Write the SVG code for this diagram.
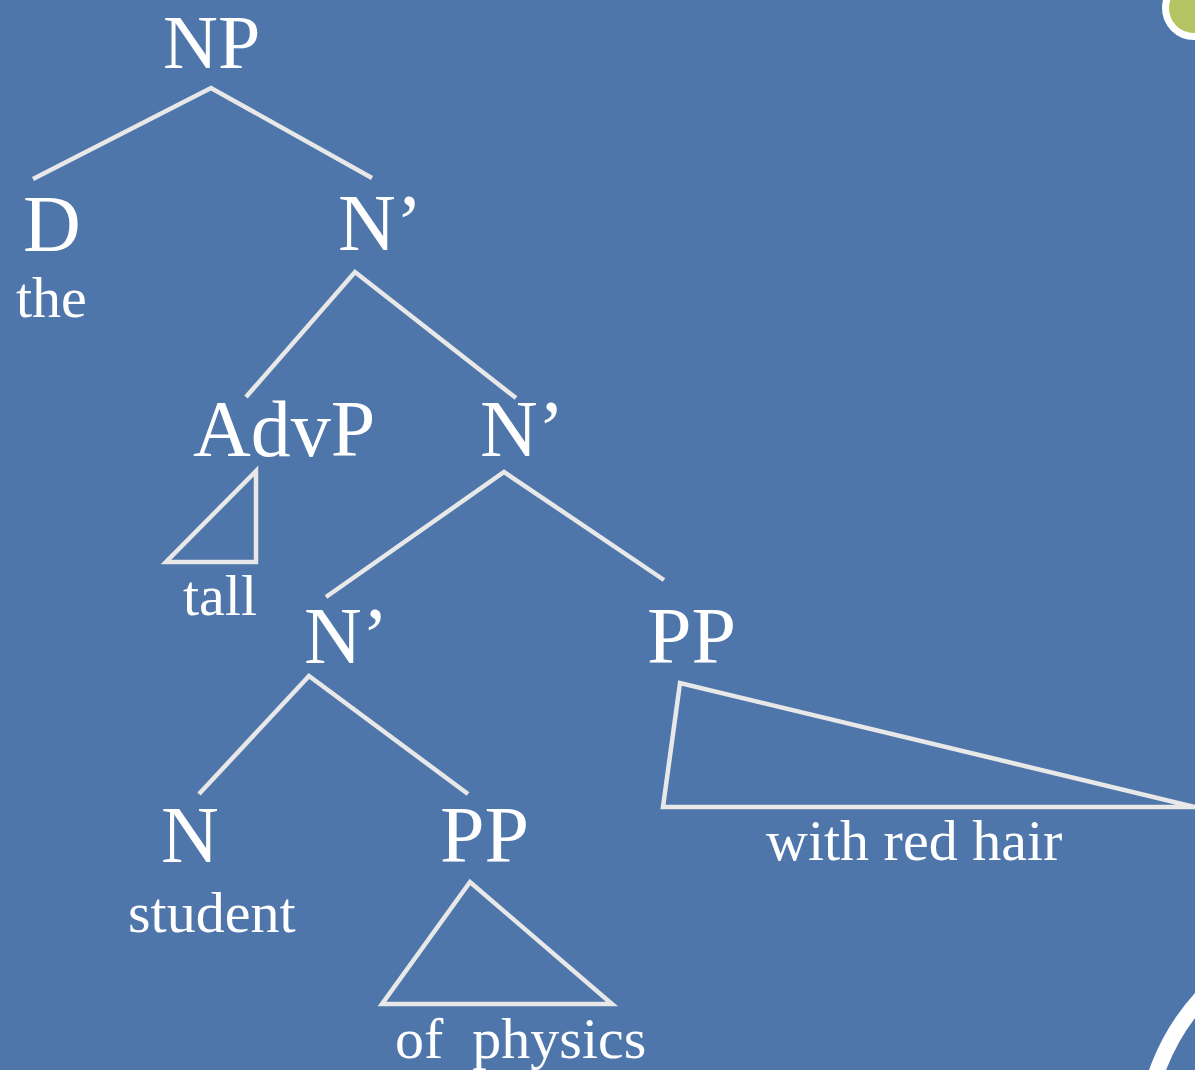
<svg xmlns="http://www.w3.org/2000/svg" width="1195" height="1070" viewBox="0 0 1195 1070">
<style>
.lbl{font-family:"Liberation Serif","Times New Roman",serif;fill:#FFFFFF;}
.cat{font-size:80px;}
.word{font-size:58px;white-space:pre;}
.edge{stroke:#E8E8E8;stroke-width:4.5;fill:none;stroke-linecap:butt;stroke-linejoin:miter;}
</style>
<rect x="0" y="0" width="1195" height="1070" fill="#4E76AA"/>
<g id="decor">
<circle cx="1194" cy="8" r="28.5" fill="#B5C463" stroke="#FFFFFF" stroke-width="7"/>
<circle cx="1364" cy="1146" r="220" fill="none" stroke="#FFFFFF" stroke-width="16"/>
</g>
<g id="connectors">
<polyline class="edge" points="33,179 211,88 372,178"/>
<polyline class="edge" points="246,397 355,272 516,398"/>
<polyline class="edge" points="326,597 504,472 664,580"/>
<polyline class="edge" points="199,794 309,676 468,794"/>
<polygon class="edge" points="256,471 166,562 256,562"/>
<polygon class="edge" points="470,882 382,1004 612,1004"/>
<polygon class="edge" points="680,683 663,807 1195,807"/>
</g>
<g id="node-NP"><text class="lbl" style="font-size:76px" x="163" y="68">NP</text></g>
<g id="node-D"><text class="lbl cat" x="23" y="251">D</text><text class="lbl word" x="16" y="317">the</text></g>
<g id="node-N1"><text class="lbl cat" x="338" y="250">N’</text></g>
<g id="node-AdvP"><text class="lbl cat" x="193" y="456">AdvP</text><text class="lbl word" x="183" y="615">tall</text></g>
<g id="node-N2"><text class="lbl cat" x="480" y="456">N’</text></g>
<g id="node-N3"><text class="lbl cat" x="304" y="663">N’</text></g>
<g id="node-PP2"><text class="lbl cat" x="647" y="663">PP</text><text class="lbl word" x="766" y="860">with red hair</text></g>
<g id="node-N"><text class="lbl cat" x="161" y="862">N</text><text class="lbl word" x="128" y="932">student</text></g>
<g id="node-PP1"><text class="lbl cat" x="440" y="862">PP</text><text class="lbl word" x="395" y="1058" xml:space="preserve">of  physics</text></g>
</svg>
